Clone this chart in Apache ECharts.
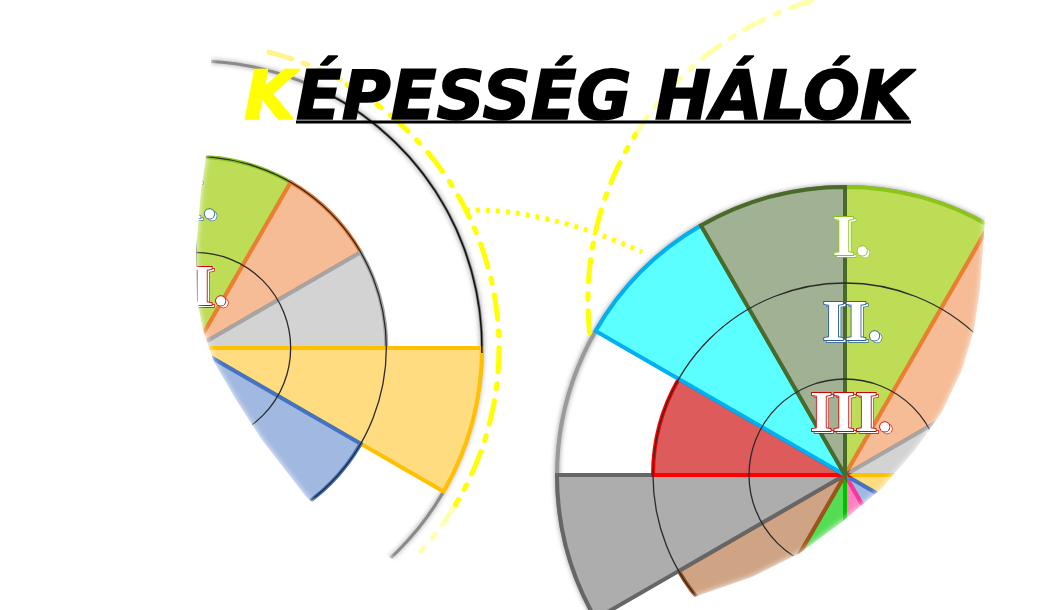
<!DOCTYPE html>
<html>
<head>
<meta charset="utf-8">
<script src="https://cdn.jsdelivr.net/npm/echarts@6/dist/echarts.min.js"></script>
<style>html,body{margin:0;padding:0;background:#fff;}#c{width:1043px;height:610px;}</style>
</head>
<body>
<div id="c"></div>
<script>
// ---- data ----
const categories = ['1','2','3','4','5','6','7','8','9','10','11','12'];
const rightValues = [3, 3, 3, 3, 2, 2, 2, 2, 3, 2, 3, 3];
const leftValues  = [2, 2, 2, 3, 2, 2, 2, 2, 3, 2, 3, 3];
const radiusTicks = [0, 1, 2, 3];
const titleFirst = 'K';
const titleRest = 'ÉPESSÉG HÁLÓK';
const levelLabels = ['I.', 'II.', 'III.'];

// ---- styles ----
const fills   = ['#bddd57','#f5bc96','#d3d3d3','#ffdc80','#a1b8e0','#ff80c2','#55dc55','#cfa485','#adadad','#dd5b5b','#5cffff','#a1b294'];
const borders = ['#8cc41a','#ed7d31','#a5a5a5','#ffc000','#4472c4','#ff3399','#00c000','#a0521c','#666666','#ff0000','#00b0f0','#4a6a2a'];
const labelColors = ['#8cc41a', '#2f5f9e', '#d00000'];

function buildData(vals) {
  return vals.map((v, i) => ({
    value: v,
    itemStyle: { color: fills[i], borderColor: borders[i], borderWidth: 4 }
  }));
}

function makeLabel(txt, x, y, col) {
  const font = 'bold 58px "Liberation Serif"';
  return [
    { type: 'text', z: 6, x: x + 2.5, y: y + 2.5,
      style: { text: txt, font: font, fill: '#fff', stroke: col, lineWidth: 1.3,
               align: 'center', verticalAlign: 'middle' } },
    { type: 'text', z: 7, x: x, y: y,
      style: { text: txt, font: font, fill: '#fff', stroke: col, lineWidth: 1.8,
               align: 'center', verticalAlign: 'middle' } }
  ];
}

const chart = echarts.init(document.getElementById('c'), null, { renderer: 'canvas' });

const rc = [845, 475], lc = [195, 348];
const deg = Math.PI / 180;

let graphics = [];
// right chart labels
const rPos = [[851, 240], [852, 325], [851, 416]];
levelLabels.forEach((t, i) => { graphics = graphics.concat(makeLabel(t, rPos[i][0], rPos[i][1], labelColors[i])); });
// left chart labels (partly hidden)
const lPos = [[188, 116], [187, 203], [187, 290]];
levelLabels.forEach((t, i) => { if (i > 0) graphics = graphics.concat(makeLabel(t, lPos[i][0], lPos[i][1], labelColors[i])); });

// masks (soft-edged white)
const maskStyle = { fill: '#fff', shadowBlur: 6, shadowColor: '#fff' };
graphics.push({ type: 'polygon', z: 10, shape: { points: [
  [1043,0],[987,0],[986,200],[984,235],[980,290],[974,330],[962,370],[942,412],[915,450],[882,488],[842,522],
  [800,553],[752,577],[700,595],[660,610],[1043,610]] }, style: maskStyle });
graphics.push({ type: 'polygon', z: 10, shape: { points: [
  [0,0],[212,0],[210,130],[201,190],[196,250],[197,300],[203,330],[214,362],[238,403],[262,440],[307,498],
  [350,530],[392,559],[440,588],[480,610],[0,610]] }, style: maskStyle });

// left chart outer ring: black part
graphics.push({ type: 'arc', z: 3, shape: { cx: lc[0], cy: lc[1], r: 287, startAngle: -67 * deg, endAngle: 1 * deg, clockwise: true },
  style: { stroke: '#111', lineWidth: 1.5, fill: null } });

// decorations
graphics.push({ type: 'arc', z: 20, shape: { cx: lc[0], cy: lc[1], r: 304, startAngle: -60 * deg, endAngle: 31 * deg, clockwise: true },
  style: { stroke: '#ffff00', lineWidth: 5, fill: null, lineDash: [24, 12, 5, 12], lineCap: 'round' } });
graphics.push({ type: 'arc', z: 1, shape: { cx: lc[0], cy: lc[1], r: 305, startAngle: -76 * deg, endAngle: -60 * deg, clockwise: true },
  style: { stroke: 'rgba(255,230,0,0.45)', lineWidth: 5, fill: null, lineDash: [24, 12, 5, 12], lineCap: 'round' } });
graphics.push({ type: 'arc', z: 20, shape: { cx: lc[0], cy: lc[1], r: 304, startAngle: 31 * deg, endAngle: 42 * deg, clockwise: true },
  style: { stroke: 'rgba(255,255,0,0.3)', lineWidth: 5, fill: null, lineDash: [24, 12, 5, 12], lineCap: 'round' } });
graphics.push({ type: 'arc', z: 1, shape: { cx: 900, cy: 300, r: 312, startAngle: -186 * deg, endAngle: -148 * deg, clockwise: true },
  style: { stroke: '#ffff00', lineWidth: 5, fill: null, lineDash: [22, 12, 5, 12], lineCap: 'round' } });
graphics.push({ type: 'arc', z: 1, shape: { cx: 900, cy: 300, r: 312, startAngle: -148 * deg, endAngle: -95 * deg, clockwise: true },
  style: { stroke: 'rgba(255,255,0,0.35)', lineWidth: 5, fill: null, lineDash: [22, 12, 5, 12], lineCap: 'round' } });
graphics.push({ type: 'bezierCurve', z: 20, shape: { x1: 466, y1: 210, cpx1: 545, cpy1: 208, x2: 642, y2: 252 },
  style: { stroke: '#ffff00', lineWidth: 5, fill: null, lineDash: [4, 6] } });

// title
graphics.push({ type: 'text', z: 30, x: 244, y: 62,
  style: {
    text: '{k|' + titleFirst + '}{r|' + titleRest + '}',
    rich: {
      k: { fill: '#ffff00', stroke: '#ffff00', lineWidth: 1.5, fontSize: 67, fontWeight: 'bold', fontStyle: 'italic', fontFamily: '"DejaVu Sans"', lineHeight: 80 },
      r: { fill: '#000000', stroke: '#000000', lineWidth: 1.5, fontSize: 67, fontWeight: 'bold', fontStyle: 'italic', fontFamily: '"DejaVu Sans"', lineHeight: 80 }
    }
  } });
graphics.push({ type: 'line', z: 30, shape: { x1: 296, y1: 122, x2: 911, y2: 122 }, style: { stroke: '#000', lineWidth: 3 } });

function angleAxis(idx, lineStyle) {
  return {
    polarIndex: idx, type: 'category', data: categories, startAngle: 90, clockwise: true,
    axisLine: { show: true, lineStyle: lineStyle },
    axisTick: { show: false }, axisLabel: { show: false }, splitLine: { show: false }
  };
}
function radiusAxis(idx) {
  return {
    polarIndex: idx, type: 'value', min: radiusTicks[0], max: radiusTicks[radiusTicks.length - 1], interval: 1, z: 5,
    axisLine: { show: false }, axisTick: { show: false }, axisLabel: { show: false },
    splitLine: { show: true, lineStyle: { color: ['rgba(0,0,0,0)', '#2a2a2a', '#2a2a2a', 'rgba(0,0,0,0)'], width: 1.3 } }
  };
}

chart.setOption({
  animation: false,
  backgroundColor: '#ffffff',
  polar: [
    { center: rc, radius: [0, 288] },
    { center: lc, radius: [0, 287] }
  ],
  angleAxis: [
    angleAxis(0, { color: '#9a9a9a', width: 4, shadowBlur: 5, shadowColor: 'rgba(120,120,120,0.8)' }),
    angleAxis(1, { color: '#8a8a8a', width: 3, shadowBlur: 5, shadowColor: 'rgba(120,120,120,0.8)' })
  ],
  radiusAxis: [radiusAxis(0), radiusAxis(1)],
  series: [
    { type: 'bar', coordinateSystem: 'polar', polarIndex: 0, barCategoryGap: '0%', data: buildData(rightValues) },
    { type: 'bar', coordinateSystem: 'polar', polarIndex: 1, barCategoryGap: '0%', data: buildData(leftValues) }
  ],
  graphic: { elements: graphics }
});
</script>
</body>
</html>
